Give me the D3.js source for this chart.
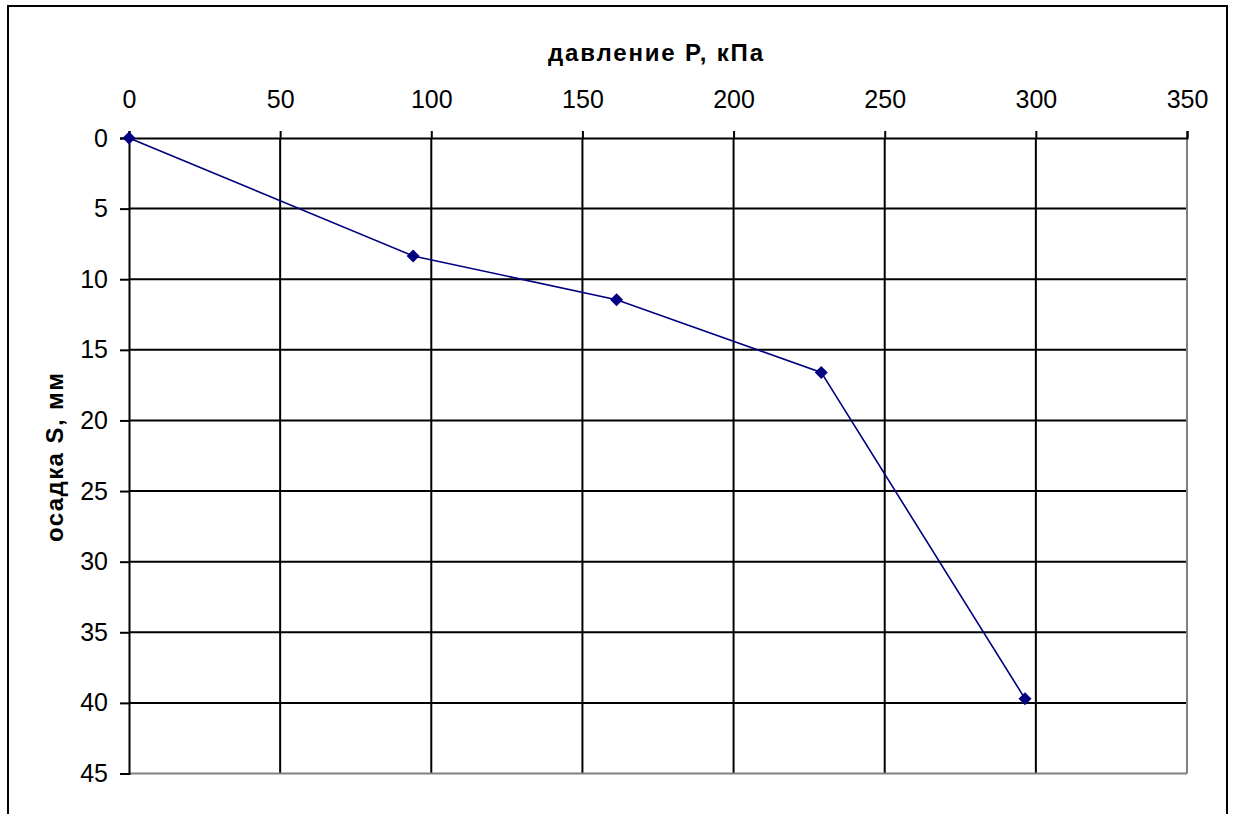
<!DOCTYPE html>
<html><head><meta charset="utf-8">
<script src="https://cdn.jsdelivr.net/npm/d3@7"></script>
<style>body{margin:0;background:#fff}svg{display:block}</style>
</head><body>
<script>
const pressure = [0, 94, 161.3, 229, 296.4];
const settlement = [0, 8.35, 11.45, 16.6, 39.7];
const xTicks = [0, 50, 100, 150, 200, 250, 300, 350];
const yTicks = [0, 5, 10, 15, 20, 25, 30, 35, 40, 45];
const xTitle = "давление P, кПа";
const yTitle = "осадка S, мм";

const W = 1233, H = 814;
const svg = d3.select("body").append("svg").attr("width", W).attr("height", H);
svg.append("rect").attr("x", 8).attr("y", 6).attr("width", 1219).attr("height", 830)
  .attr("fill", "#fff").attr("stroke", "#000").attr("stroke-width", 2);

const L = 129, T = 138, R = 1187, B = 773.5;
const x = d3.scaleLinear().domain([0, 350]).range([L, R]);
const y = d3.scaleLinear().domain([0, 45]).range([T, B]);
const font = "'Liberation Sans', Arial, sans-serif";

// gridlines
svg.append("g").selectAll("line").data(xTicks.filter(d => d > 0 && d < 350)).join("line")
  .attr("x1", d => x(d)).attr("x2", d => x(d)).attr("y1", T).attr("y2", B)
  .attr("stroke", "#000").attr("stroke-width", 2);
svg.append("g").selectAll("line").data(yTicks.filter(d => d > 0 && d < 45)).join("line")
  .attr("x1", L).attr("x2", R).attr("y1", d => y(d)).attr("y2", d => y(d))
  .attr("stroke", "#000").attr("stroke-width", 2);
// plot border right/bottom grey
svg.append("line").attr("x1", R).attr("x2", R).attr("y1", T).attr("y2", B).attr("stroke", "#808080").attr("stroke-width", 2);
svg.append("line").attr("x1", L).attr("x2", R).attr("y1", B).attr("y2", B).attr("stroke", "#808080").attr("stroke-width", 2);

// axes
const xAxis = d3.axisTop(x).tickValues(xTicks).tickSize(7).tickPadding(23).tickFormat(d3.format("d"));
const gx = svg.append("g").attr("transform", `translate(0,${T})`).call(xAxis);
const yAxis = d3.axisLeft(y).tickValues(yTicks).tickSize(9).tickPadding(12).tickFormat(d3.format("d"));
const gy = svg.append("g").attr("transform", `translate(${L},0)`).call(yAxis);
[gx, gy].forEach(g => {
  g.select(".domain").attr("stroke", "#000").attr("stroke-width", 2);
  g.selectAll(".tick line").attr("stroke", "#000").attr("stroke-width", 2);
  g.selectAll("text").attr("font-family", font).attr("font-size", 25).attr("fill", "#000");
});

// titles
svg.append("text").attr("x", 548).attr("y", 61)
  .attr("textLength", 215).attr("lengthAdjust", "spacing")
  .attr("font-family", font).attr("font-weight", "bold").attr("font-size", 24).text(xTitle);
svg.append("text").attr("transform", `translate(63,542) rotate(-90)`)
  .attr("textLength", 169).attr("lengthAdjust", "spacing")
  .attr("font-family", font).attr("font-weight", "bold").attr("font-size", 24).text(yTitle);

// series
const pts = pressure.map((p, i) => [p, settlement[i]]);
svg.append("path").datum(pts)
  .attr("d", d3.line().x(d => x(d[0])).y(d => y(d[1])))
  .attr("fill", "none").attr("stroke", "#000080").attr("stroke-width", 1.6);
svg.append("g").selectAll("path").data(pts).join("path")
  .attr("transform", d => `translate(${x(d[0])},${y(d[1])})`)
  .attr("d", "M0,-6.5L6.5,0L0,6.5L-6.5,0Z").attr("fill", "#000080");
</script>
</body></html>
